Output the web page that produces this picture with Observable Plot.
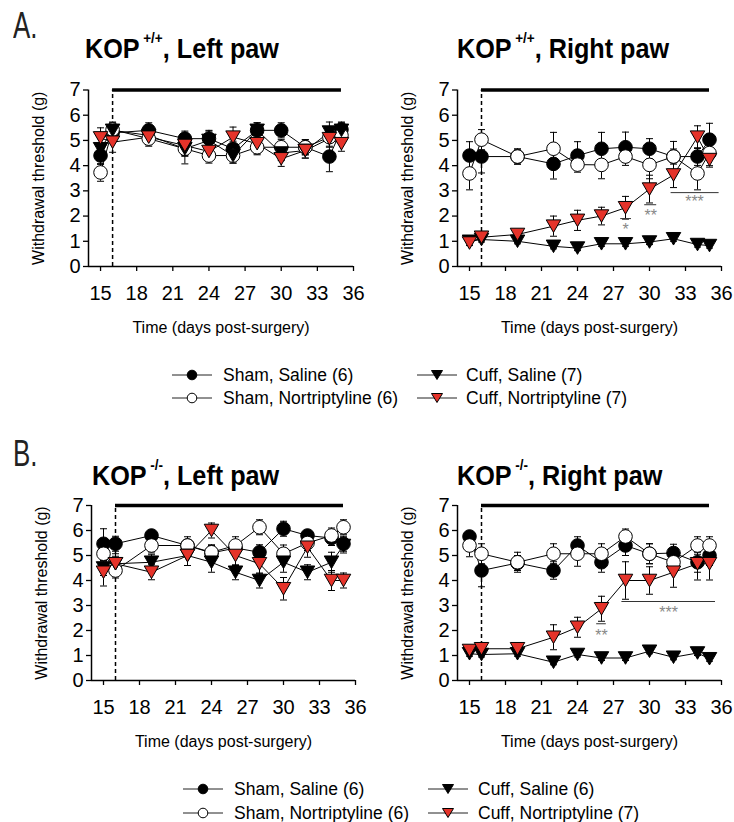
<!DOCTYPE html>
<html><head><meta charset="utf-8">
<script src="https://cdn.jsdelivr.net/npm/d3@7"></script>
<script src="https://cdn.jsdelivr.net/npm/@observablehq/plot@0.6"></script>
<style>
body{margin:0;background:#fff;}
#root{position:relative;width:734px;height:822px;font-family:Arial,"Liberation Sans",sans-serif;overflow:hidden;background:#fff}
.panel{position:absolute}
.title{position:absolute;font-weight:bold;font-size:28px;line-height:28px;white-space:nowrap;transform:scaleX(0.9);transform-origin:0 0;color:#000}
.title sup{font-size:15px;vertical-align:baseline;position:relative;top:-15px;margin-left:4px}
.letter{position:absolute;font-size:36px;line-height:36px;transform:scaleX(0.72);transform-origin:0 0;color:#222}
.leg{position:absolute;font-size:17.5px;line-height:20px;white-space:nowrap;color:#000}
.legsym{position:absolute}
</style>
</head><body><div id="root"></div>
<script>
// ---------------- data ----------------
const days = [15, 16, 19, 22, 24, 26, 28, 30, 32, 34, 35];
const groups = ["Sham, Saline", "Sham, Nortriptyline", "Cuff, Saline", "Cuff, Nortriptyline"];
const xTicks = [15, 18, 21, 24, 27, 30, 33, 36];
const yTicks = [0, 1, 2, 3, 4, 5, 6, 7];
const xTitle = "Time (days post-surgery)";
const yTitle = "Withdrawal threshold (g)";

// A. KOP+/+, Left paw
const aLeftShamSaline    = [4.4, 5.3, 5.4, 5.07, 5.07, 4.67, 5.4, 5.4, 4.73, 4.36, 5.43];
const aLeftShamSalineSem = [0.35, 0.3, 0.3, 0.3, 0.3, 0.3, 0.3, 0.3, 0.3, 0.6, 0.3];
const aLeftShamNort      = [3.73, 5.43, 5.07, 4.67, 4.4, 4.4, 4.73, 4.73, 4.73, 5.13, 5.2];
const aLeftShamNortSem   = [0.35, 0.3, 0.3, 0.3, 0.3, 0.3, 0.3, 0.3, 0.3, 0.4, 0.3];
const aLeftCuffSaline    = [4.67, 5.4, 5.2, 4.67, 5.0, 4.4, 5.4, 4.5, 4.6, 5.33, 5.4];
const aLeftCuffSalineSem = [0.4, 0.3, 0.35, 0.6, 0.4, 0.3, 0.3, 0.3, 0.3, 0.4, 0.3];
const aLeftCuffNort      = [5.1, 4.93, 5.13, 4.8, 4.56, 5.13, 4.87, 4.27, 4.6, 5.07, 4.87];
const aLeftCuffNortSem   = [0.4, 0.4, 0.3, 0.4, 0.3, 0.4, 0.4, 0.3, 0.3, 0.3, 0.3];

// A. KOP+/+, Right paw
const aRightShamSaline    = [4.4, 4.36, 4.36, 4.07, 4.4, 4.67, 4.73, 4.67, 4.36, 4.36, 5.03];
const aRightShamSalineSem = [0.55, 0.65, 0.3, 0.6, 0.55, 0.65, 0.6, 0.4, 0.3, 0.35, 0.65];
const aRightShamNort      = [3.69, 5.03, 4.36, 4.67, 4.04, 4.03, 4.36, 4.03, 4.36, 3.69, 4.5];
const aRightShamNortSem   = [0.65, 0.4, 0.3, 0.65, 0.3, 0.55, 0.35, 0.55, 0.6, 0.65, 0.5];
const aRightCuffSaline    = [1.0, 1.07, 1.0, 0.8, 0.73, 0.9, 0.9, 0.97, 1.1, 0.87, 0.83];
const aRightCuffSalineSem = [0.1, 0.1, 0.1, 0.1, 0.1, 0.1, 0.1, 0.1, 0.1, 0.1, 0.1];
const aRightCuffNort      = [0.93, 1.16, 1.27, 1.6, 1.83, 2.0, 2.33, 3.07, 3.63, 5.13, 4.24];
const aRightCuffNortSem   = [0.1, 0.1, 0.1, 0.4, 0.4, 0.35, 0.45, 0.55, 0.5, 0.45, 0.3];

// B. KOP-/-, Left paw
const bLeftShamSaline    = [5.47, 5.47, 5.8, 5.4, 5.1, 5.3, 5.13, 6.07, 5.8, 5.7, 5.47];
const bLeftShamSalineSem = [0.6, 0.3, 0.2, 0.2, 0.3, 0.3, 0.3, 0.3, 0.2, 0.3, 0.3];
const bLeftShamNort      = [5.07, 4.4, 5.4, 5.4, 5.13, 5.4, 6.13, 5.07, 5.5, 5.8, 6.13];
const bLeftShamNortSem   = [0.3, 0.3, 0.3, 0.35, 0.3, 0.35, 0.3, 0.35, 0.3, 0.3, 0.3];
const bLeftCuffSaline    = [4.5, 4.67, 4.73, 5.0, 4.73, 4.33, 4.0, 4.73, 4.33, 4.73, 5.4];
const bLeftCuffSalineSem = [0.3, 0.3, 0.3, 0.4, 0.4, 0.3, 0.3, 0.4, 0.3, 0.4, 0.3];
const bLeftCuffNort      = [4.33, 4.67, 4.33, 5.0, 6.0, 5.0, 4.67, 3.67, 5.33, 4.0, 4.0];
const bLeftCuffNortSem   = [0.55, 0.4, 0.3, 0.4, 0.3, 0.4, 0.4, 0.45, 0.4, 0.4, 0.3];

// B. KOP-/-, Right paw
const bRightShamSaline    = [5.76, 4.4, 4.7, 4.4, 5.4, 4.73, 5.4, 5.07, 5.1, 4.73, 5.0];
const bRightShamSalineSem = [0.2, 0.65, 0.3, 0.35, 0.35, 0.4, 0.4, 0.4, 0.35, 0.4, 0.4];
const bRightShamNort      = [5.4, 5.07, 4.73, 5.07, 5.07, 5.07, 5.76, 5.07, 4.73, 5.4, 5.4];
const bRightShamNortSem   = [0.45, 0.4, 0.4, 0.4, 0.5, 0.4, 0.3, 0.4, 0.4, 0.35, 0.35];
const bRightCuffSaline    = [1.07, 1.04, 1.07, 0.73, 1.04, 0.9, 0.9, 1.17, 0.93, 1.1, 0.87];
const bRightCuffSalineSem = [0.1, 0.1, 0.1, 0.1, 0.1, 0.1, 0.1, 0.1, 0.1, 0.1, 0.1];
const bRightCuffNort      = [1.2, 1.27, 1.27, 1.73, 2.13, 2.87, 4.0, 4.0, 4.33, 4.67, 4.67];
const bRightCuffNortSem   = [0.1, 0.1, 0.2, 0.5, 0.4, 0.5, 0.75, 0.55, 0.6, 0.65, 0.65];

// significance annotations (data coordinates)
const sigLinesAR = [{x1: 27.6, x2: 28.5, y: 1.9}, {x1: 29.6, x2: 30.6, y: 2.45}, {x1: 31.8, x2: 35.8, y: 2.93}];
const sigTextAR  = [{x: 28, y: 1.62, label: "*"}, {x: 30.1, y: 2.17, label: "**"}, {x: 33.75, y: 2.72, label: "***"}];
const sigLinesBR = [{x1: 25.6, x2: 26.4, y: 2.27}, {x1: 27.7, x2: 35.5, y: 3.16}];
const sigTextBR  = [{x: 26, y: 1.93, label: "**"}, {x: 31.6, y: 2.87, label: "***"}];

const legendA = ["Sham, Saline (6)", "Sham, Nortriptyline (6)", "Cuff, Saline (7)", "Cuff, Nortriptyline (7)"];
const legendB = ["Sham, Saline (6)", "Sham, Nortriptyline (6)", "Cuff, Saline (6)", "Cuff, Nortriptyline (7)"];

// ---------------- drawing ----------------
const RED = "#e5332a";
const fills = ["#000", "#fff", "#000", RED];
const isTri = [false, false, true, true];

const triDown = {draw(ctx, size) {
  const r = Math.sqrt(size / Math.PI);
  ctx.moveTo(-1.1 * r, -0.95 * r);
  ctx.lineTo(1.1 * r, -0.95 * r);
  ctx.lineTo(0, 0.95 * r);
  ctx.closePath();
}};
const capSym = {draw(ctx, size) {
  const r = Math.sqrt(size / Math.PI);
  ctx.moveTo(-r, 0); ctx.lineTo(r, 0);
}};

function buildRows(series) {
  const rows = [];
  series.forEach(([vals, sems], gi) => {
    vals.forEach((v, i) => rows.push({group: groups[gi], gi, day: days[i], value: v, sem: sems[i]}));
  });
  return rows;
}

function panel(rows, opts) {
  const marks = [
    Plot.ruleY([0], {x1: 14, x2: 36, strokeWidth: 1.5}),
    Plot.ruleX([14], {y1: 0, y2: 7, strokeWidth: 1.5}),
    Plot.axisX({ticks: xTicks, tickSize: 5, tickPadding: 14, fontSize: 20, label: null, strokeWidth: 1.3, tickFormat: d3.format("d")}),
    Plot.axisY({ticks: yTicks, tickSize: 5, tickPadding: 3, fontSize: 20, label: null, strokeWidth: 1.3, tickFormat: d3.format("d")}),
    Plot.text([xTitle], {frameAnchor: "bottom", lineAnchor: "bottom", textAnchor: "middle", dy: 66, fontSize: 16}),
    Plot.text([yTitle], {frameAnchor: "left", textAnchor: "middle", lineAnchor: "middle", rotate: -90, dx: -50, fontSize: 16}),
    Plot.ruleX([16], {y1: 0, y2: 7, strokeDasharray: "4,3", strokeWidth: 1.5}),
    Plot.ruleY([7], {x1: 16, x2: 35, strokeWidth: 3.5}),
    Plot.line(rows, {x: "day", y: "value", z: "group", stroke: "#000", strokeWidth: 1}),
    Plot.ruleX(rows, {x: "day", y1: d => d.value - d.sem, y2: d => d.value + d.sem, stroke: "#000", strokeWidth: 1}),
    Plot.dot(rows, {x: "day", y: d => d.value + d.sem, symbol: capSym, r: 3.5, stroke: "#000", strokeWidth: 1}),
    Plot.dot(rows, {x: "day", y: d => d.value - d.sem, symbol: capSym, r: 3.5, stroke: "#000", strokeWidth: 1})
  ];
  groups.forEach((g, gi) => {
    marks.push(Plot.dot(rows.filter(d => d.gi === gi), {
      x: "day", y: "value",
      symbol: isTri[gi] ? triDown : "circle",
      r: isTri[gi] ? 6.6 : 6.8,
      fill: fills[gi], stroke: "#000", strokeWidth: 1
    }));
  });
  if (opts.sigLines) {
    marks.push(Plot.ruleY(opts.sigLines, {x1: "x1", x2: "x2", y: "y", stroke: "#333", strokeWidth: 1}));
    marks.push(Plot.text(opts.sigText, {x: "x", y: "y", text: "label", fill: "#888", fontSize: 16, dy: 4}));
  }
  const p = Plot.plot({
    width: 367, height: 345,
    marginLeft: opts.ml, marginRight: opts.mr, marginTop: opts.mt, marginBottom: opts.mb,
    x: {domain: [14, 36]},
    y: {domain: [0, 7]},
    style: {fontFamily: "Arial, 'Liberation Sans', sans-serif", background: "transparent", overflow: "visible", color: "#000"},
    marks
  });
  p.classList.add("panel");
  p.style.left = opts.left + "px";
  p.style.top = opts.top + "px";
  p.style.position = "absolute";
  document.getElementById("root").appendChild(p);
}

const root = document.getElementById("root");

panel(buildRows([[aLeftShamSaline, aLeftShamSalineSem], [aLeftShamNort, aLeftShamNortSem], [aLeftCuffSaline, aLeftCuffSalineSem], [aLeftCuffNort, aLeftCuffNortSem]]),
  {left: 0, top: 0, ml: 88, mr: 14, mt: 89.5, mb: 79});
panel(buildRows([[aRightShamSaline, aRightShamSalineSem], [aRightShamNort, aRightShamNortSem], [aRightCuffSaline, aRightCuffSalineSem], [aRightCuffNort, aRightCuffNortSem]]),
  {left: 367, top: 0, ml: 90, mr: 13, mt: 89.5, mb: 79, sigLines: sigLinesAR, sigText: sigTextAR});
panel(buildRows([[bLeftShamSaline, bLeftShamSalineSem], [bLeftShamNort, bLeftShamNortSem], [bLeftCuffSaline, bLeftCuffSalineSem], [bLeftCuffNort, bLeftCuffNortSem]]),
  {left: 0, top: 415, ml: 91, mr: 12, mt: 90, mb: 80});
panel(buildRows([[bRightShamSaline, bRightShamSalineSem], [bRightShamNort, bRightShamNortSem], [bRightCuffSaline, bRightCuffSalineSem], [bRightCuffNort, bRightCuffNortSem]]),
  {left: 367, top: 415, ml: 90, mr: 13, mt: 90, mb: 80, sigLines: sigLinesBR, sigText: sigTextBR});

function addDiv(cls, html, left, top) {
  const d = document.createElement("div");
  d.className = cls; d.innerHTML = html;
  d.style.left = left + "px"; d.style.top = top + "px";
  root.appendChild(d);
  return d;
}

// panel letters and titles
addDiv("letter", "A.", 13, 8);
addDiv("letter", "B.", 13, 436);
addDiv("title", "KOP<sup>+/+</sup>, Left paw", 85, 35);
addDiv("title", "KOP<sup>+/+</sup>, Right paw", 457, 35);
addDiv("title", "KOP<sup>-/-</sup>, Left paw", 92, 462);
addDiv("title", "KOP<sup>-/-</sup>, Right paw", 457, 462);

// legends
function legSym(gi) {
  const m = isTri[gi]
    ? `<path d="M14.5,3.5 L25.5,3.5 L20,12.5 Z" fill="${fills[gi]}" stroke="#000" stroke-width="1"/>`
    : `<circle cx="20" cy="8" r="4.8" fill="${fills[gi]}" stroke="#000" stroke-width="1"/>`;
  return `<svg width="40" height="16" viewBox="0 0 40 16"><line x1="0" y1="8" x2="40" y2="8" stroke="#222" stroke-width="1"/>${m}</svg>`;
}
function legend(labels, rows, symX, txtX) {
  const pos = [[0, 0], [0, 1], [1, 0], [1, 1]];
  labels.forEach((lab, gi) => {
    const [c, r] = pos[gi];
    addDiv("legsym", legSym(gi), symX[c], rows[r] - 8);
    addDiv("leg", lab, txtX[c], rows[r] - 10);
  });
}
legend(legendA, [375, 398], [172, 417], [223, 466]);
legend(legendB, [789, 813], [183, 428], [234, 478]);
</script>
</body></html>
